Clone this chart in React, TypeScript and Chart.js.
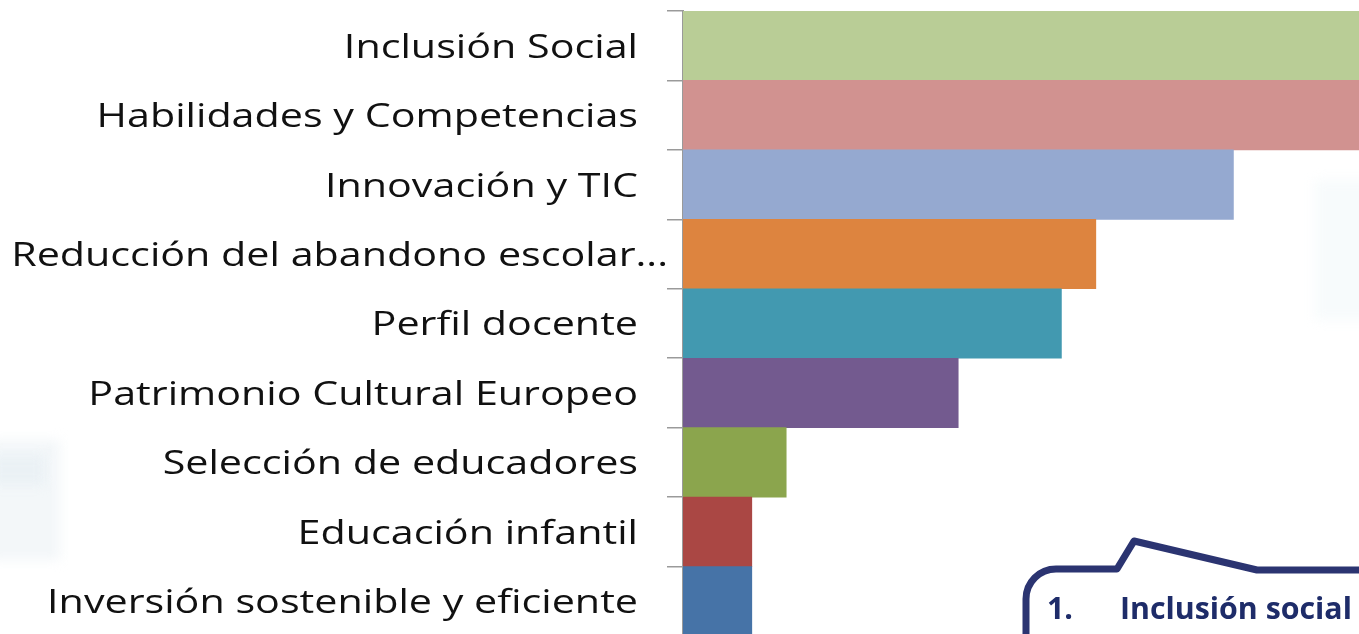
import React, { useEffect, useRef } from "react";
import { Chart, registerables } from "chart.js";

Chart.register(...registerables);

const categories: string[] = [
  "Inclusión Social",
  "Habilidades y Competencias",
  "Innovación y TIC",
  "Reducción del abandono escolar...",
  "Perfil docente",
  "Patrimonio Cultural Europeo",
  "Selección de educadores",
  "Educación infantil",
  "Inversión sostenible y eficiente",
];

const values: number[] = [22, 21, 16, 12, 11, 8, 3, 2, 2];

const barColors: string[] = [
  "#B9CD96",
  "#D19290",
  "#95A9D0",
  "#DD843F",
  "#4299B0",
  "#735A8F",
  "#8BA54D",
  "#AA4744",
  "#4673A7",
];

const calloutNumber = "1.";
const calloutText = "Inclusión social";

const LABEL_RIGHT = 638;
const LABEL_STRETCH = 1.25;

// Stretch the y-axis tick labels horizontally (the source text is a wide face)
const stretchLabelsPlugin = {
  id: "stretchLabels",
  beforeDraw(chart: any) {
    const scale = chart.scales.y;
    if (!scale || scale._stretchPatched) return;
    scale._stretchPatched = true;
    const origDraw = scale.drawLabels.bind(scale);
    scale.drawLabels = (area: any) => {
      const ctx = chart.ctx as CanvasRenderingContext2D;
      ctx.save();
      ctx.translate(LABEL_RIGHT, 0);
      ctx.scale(LABEL_STRETCH, 1);
      ctx.translate(-LABEL_RIGHT, 0);
      origDraw(area);
      ctx.restore();
    };
    const origItems = scale.getLabelItems.bind(scale);
    scale.getLabelItems = (area: any) => {
      const items = origItems(area);
      if (items) {
        items.forEach((it: any, i: number) => {
          if (it._shifted) return;
          it._shifted = true;
          it.options.translation[1] += 2.5;
          if (i === 3) it.options.translation[0] += 24;
        });
      }
      return items;
    };
  },
};

const backgroundPlugin = {
  id: "softBackground",
  beforeDraw(chart: any) {
    const ctx = chart.ctx as CanvasRenderingContext2D;
    ctx.save();
    ctx.filter = "blur(6px)";
    ctx.fillStyle = "rgba(232,239,244,0.5)";
    ctx.fillRect(-10, 440, 70, 120);
    ctx.fillStyle = "rgba(222,232,240,0.4)";
    ctx.fillRect(-10, 455, 55, 30);
    ctx.fillStyle = "rgba(240,247,249,0.55)";
    ctx.fillRect(1315, 180, 60, 140);
    ctx.restore();
  },
};

const calloutPlugin = {
  id: "callout",
  afterDraw(chart: any) {
    const ctx = chart.ctx as CanvasRenderingContext2D;
    ctx.save();
    const left = 1026;
    const top = 569;
    const r = 30;
    const path = () => {
      ctx.beginPath();
      ctx.moveTo(left, 700);
      ctx.lineTo(left, top + r);
      ctx.arcTo(left, top, left + r, top, r);
      ctx.lineTo(1117, top);
      ctx.lineTo(1134, 541);
      ctx.lineTo(1257, 570);
      ctx.lineTo(1400, 570);
    };
    path();
    ctx.lineTo(1400, 700);
    ctx.closePath();
    ctx.fillStyle = "#ffffff";
    ctx.fill();
    path();
    ctx.lineWidth = 7;
    ctx.lineJoin = "round";
    ctx.strokeStyle = "#2B3471";
    ctx.stroke();

    ctx.fillStyle = "#1E2C69";
    ctx.textBaseline = "alphabetic";
    ctx.textAlign = "left";
    ctx.font = "bold 30px 'Open Sans'";
    const w = ctx.measureText(calloutText).width;
    const size = (30 * 232) / w;
    ctx.font = `bold ${size}px 'Open Sans'`;
    ctx.fillText(calloutNumber, 1047, 619);
    ctx.fillText(calloutText, 1120, 619);
    ctx.restore();
  },
};

export default function App() {
  const ref = useRef<HTMLCanvasElement | null>(null);

  useEffect(() => {
    if (!ref.current) return;
    const chart = new Chart(ref.current, {
      type: "bar",
      data: {
        labels: categories,
        datasets: [
          {
            data: values,
            backgroundColor: barColors,
            borderWidth: 0,
            categoryPercentage: 1,
            barPercentage: 1,
          },
        ],
      },
      options: {
        indexAxis: "y",
        responsive: false,
        animation: false,
        layout: { padding: { top: 11, bottom: 10, left: 0, right: 0 } },
        plugins: {
          legend: { display: false },
          tooltip: { enabled: false },
          title: { display: false },
        },
        scales: {
          x: {
            display: false,
            min: 0,
            max: 19.65,
          },
          y: {
            afterFit(scale: any) {
              scale.width = 683;
              scale.paddingTop = 0;
              scale.paddingBottom = 0;
            },
            grid: {
              display: true,
              drawOnChartArea: false,
              drawTicks: true,
              tickLength: 16,
              color: "#9a9a9a",
              lineWidth: 1.5,
              offset: true,
            },
            border: { display: true, color: "#9a9a9a", width: 2 },
            ticks: {
              padding: 29,
              color: "#111111",
              font: { family: "'Open Sans'", size: 33 },
              autoSkip: false,
            },
          },
        },
      },
      plugins: [backgroundPlugin, stretchLabelsPlugin, calloutPlugin],
    });
    return () => chart.destroy();
  }, []);

  return (
    <div
      style={{
        position: "fixed",
        left: 0,
        top: 0,
        width: 1359,
        height: 634,
        overflow: "hidden",
        background: "#ffffff",
      }}
    >
      <canvas ref={ref} width={1359} height={646} style={{ display: "block" }} />
    </div>
  );
}
